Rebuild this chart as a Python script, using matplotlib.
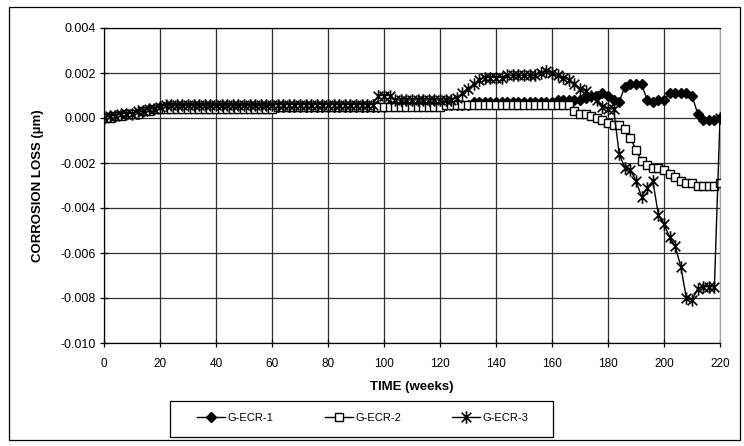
import matplotlib
matplotlib.use("Agg")
import matplotlib.pyplot as plt
from matplotlib.path import Path
from matplotlib.patches import Rectangle

plt.rcParams['font.family'] = ['Liberation Sans', 'DejaVu Sans']

weeks = list(range(0, 221, 2))

ecr1 = ([0.0000, 0.0001, 0.0001, 0.00015, 0.0002, 0.0002, 0.0002, 0.0003, 0.0004, 0.0004, 0.0005]
        + [0.0005] * 20            # 22-60
        + [0.0005] * 20            # 62-100
        + [0.0006] * 15            # 102-130
        + [0.0007] * 15            # 132-160
        + [0.0008] * 5             # 162-170
        + [0.0009, 0.0010, 0.0010, 0.0011, 0.0010, 0.0008, 0.0007,
           0.0014, 0.0015, 0.0015, 0.0015, 0.0008, 0.0007, 0.0008, 0.0008,
           0.0011, 0.0011, 0.0011, 0.0011, 0.0010, 0.0002, -0.0001, -0.0001, -0.0001, 0.0000])

ecr2 = ([0.0000, 0.0000, 0.0001, 0.0001, 0.0002, 0.0002, 0.0002, 0.0003, 0.0003, 0.0004, 0.0004]
        + [0.0004] * 20            # 22-60
        + [0.0005] * 20            # 62-100
        + [0.0005] * 10            # 102-120
        + [0.0006] * 23            # 122-166
        + [0.0003, 0.0002, 0.0002, 0.0001, 0.0000, -0.0001, -0.0002, -0.0003, -0.0003,
           -0.0005, -0.0009, -0.0014, -0.0019, -0.0021, -0.0022, -0.0022, -0.0023,
           -0.0025, -0.0026, -0.0028, -0.0029, -0.0029, -0.0030, -0.0030, -0.0030,
           -0.0030, -0.0029])

ecr3 = ([0.0000, 0.0001, 0.0001, 0.0002, 0.0002, 0.0002, 0.0003, 0.0003, 0.0004, 0.0004, 0.0005]
        + [0.0006] * 38            # 22-96
        + [0.0010, 0.0010, 0.0010]  # 98-102
        + [0.0008] * 11            # 104-124
        + [0.0009, 0.0011, 0.0013, 0.0015, 0.0017, 0.0018, 0.0018, 0.0018, 0.0018,
           0.0019, 0.0019, 0.0019, 0.0019, 0.0019, 0.0019, 0.0020, 0.0021, 0.0020,
           0.0019, 0.0018, 0.0017, 0.0015, 0.0013, 0.0012, 0.0010, 0.0008, 0.0005,
           0.0004, 0.0004, -0.0016, -0.0022, -0.0023, -0.0028, -0.0035, -0.0031, -0.0028,
           -0.0043, -0.0047, -0.0053, -0.0057, -0.0066, -0.0080, -0.0081, -0.0076,
           -0.0075, -0.0075, -0.0075, 0.0000])

series_names = ['G-ECR-1', 'G-ECR-2', 'G-ECR-3']
x_ticks = list(range(0, 221, 20))
y_ticks = [-0.010, -0.008, -0.006, -0.004, -0.002, 0.000, 0.002, 0.004]

# asterisk marker: X with vertical bar
star_path = Path(
    [(-1, -1), (1, 1), (-1, 1), (1, -1), (0, -1.3), (0, 1.3)],
    [Path.MOVETO, Path.LINETO, Path.MOVETO, Path.LINETO, Path.MOVETO, Path.LINETO])

W, H = 744, 446
fig = plt.figure(figsize=(W / 100, H / 100), dpi=100)
ax = fig.add_axes([104 / W, 1 - 343 / H, (720 - 104) / W, (343 - 28) / H])

ax.plot(weeks, ecr1, color='black', lw=1, marker='D', ms=5.5, mfc='black', mec='black',
        label=series_names[0], zorder=3)
ax.plot(weeks, ecr2, color='black', lw=1, marker='s', ms=5.5, mfc='white', mec='black',
        mew=1, label=series_names[1], zorder=4)
ax.plot(weeks, ecr3, color='black', lw=1, marker=star_path, ms=9, mec='black',
        mew=1.2, label=series_names[2], zorder=5)

ax.set_xlim(0, 220)
ax.set_ylim(-0.010, 0.004)
ax.set_xticks(x_ticks)
ax.set_yticks(y_ticks)
ax.set_yticklabels([f"{v:.3f}" for v in y_ticks])
ax.grid(True, color='#303030', lw=0.9)
ax.set_axisbelow(True)
ax.tick_params(direction='inout', length=6, width=0.9)
ax.tick_params(axis='y', labelsize=9, pad=3)
ax.tick_params(axis='x', labelsize=8.5, pad=8)
for s in ['left', 'bottom', 'top']:
    ax.spines[s].set_color('black')
    ax.spines[s].set_linewidth(0.9)
ax.spines['right'].set_color('#a0a0a0')

ax.set_xlabel('TIME (weeks)', fontsize=9.5, fontweight='bold', labelpad=8)
ax.set_ylabel('CORROSION LOSS (\u00b5m)', fontsize=9.5, fontweight='bold', labelpad=12)

leg = fig.legend(loc='center', ncol=3, bbox_to_anchor=(363 / W, 1 - 418 / H),
                 frameon=False, fontsize=8, handlelength=2.5,
                 handletextpad=0.25, columnspacing=4.6, borderpad=0.0)

fig.patches.append(Rectangle((170 / W, 1 - 437 / H), (553 - 170) / W, (437 - 401) / H,
                             transform=fig.transFigure, fill=False, ec='black', lw=0.9))
fig.patches.append(Rectangle((9 / W, 1 - 440 / H), (740 - 9) / W, (440 - 7) / H,
                             transform=fig.transFigure, fill=False, ec='black', lw=0.9))

fig.savefig('out.png', dpi=100)
